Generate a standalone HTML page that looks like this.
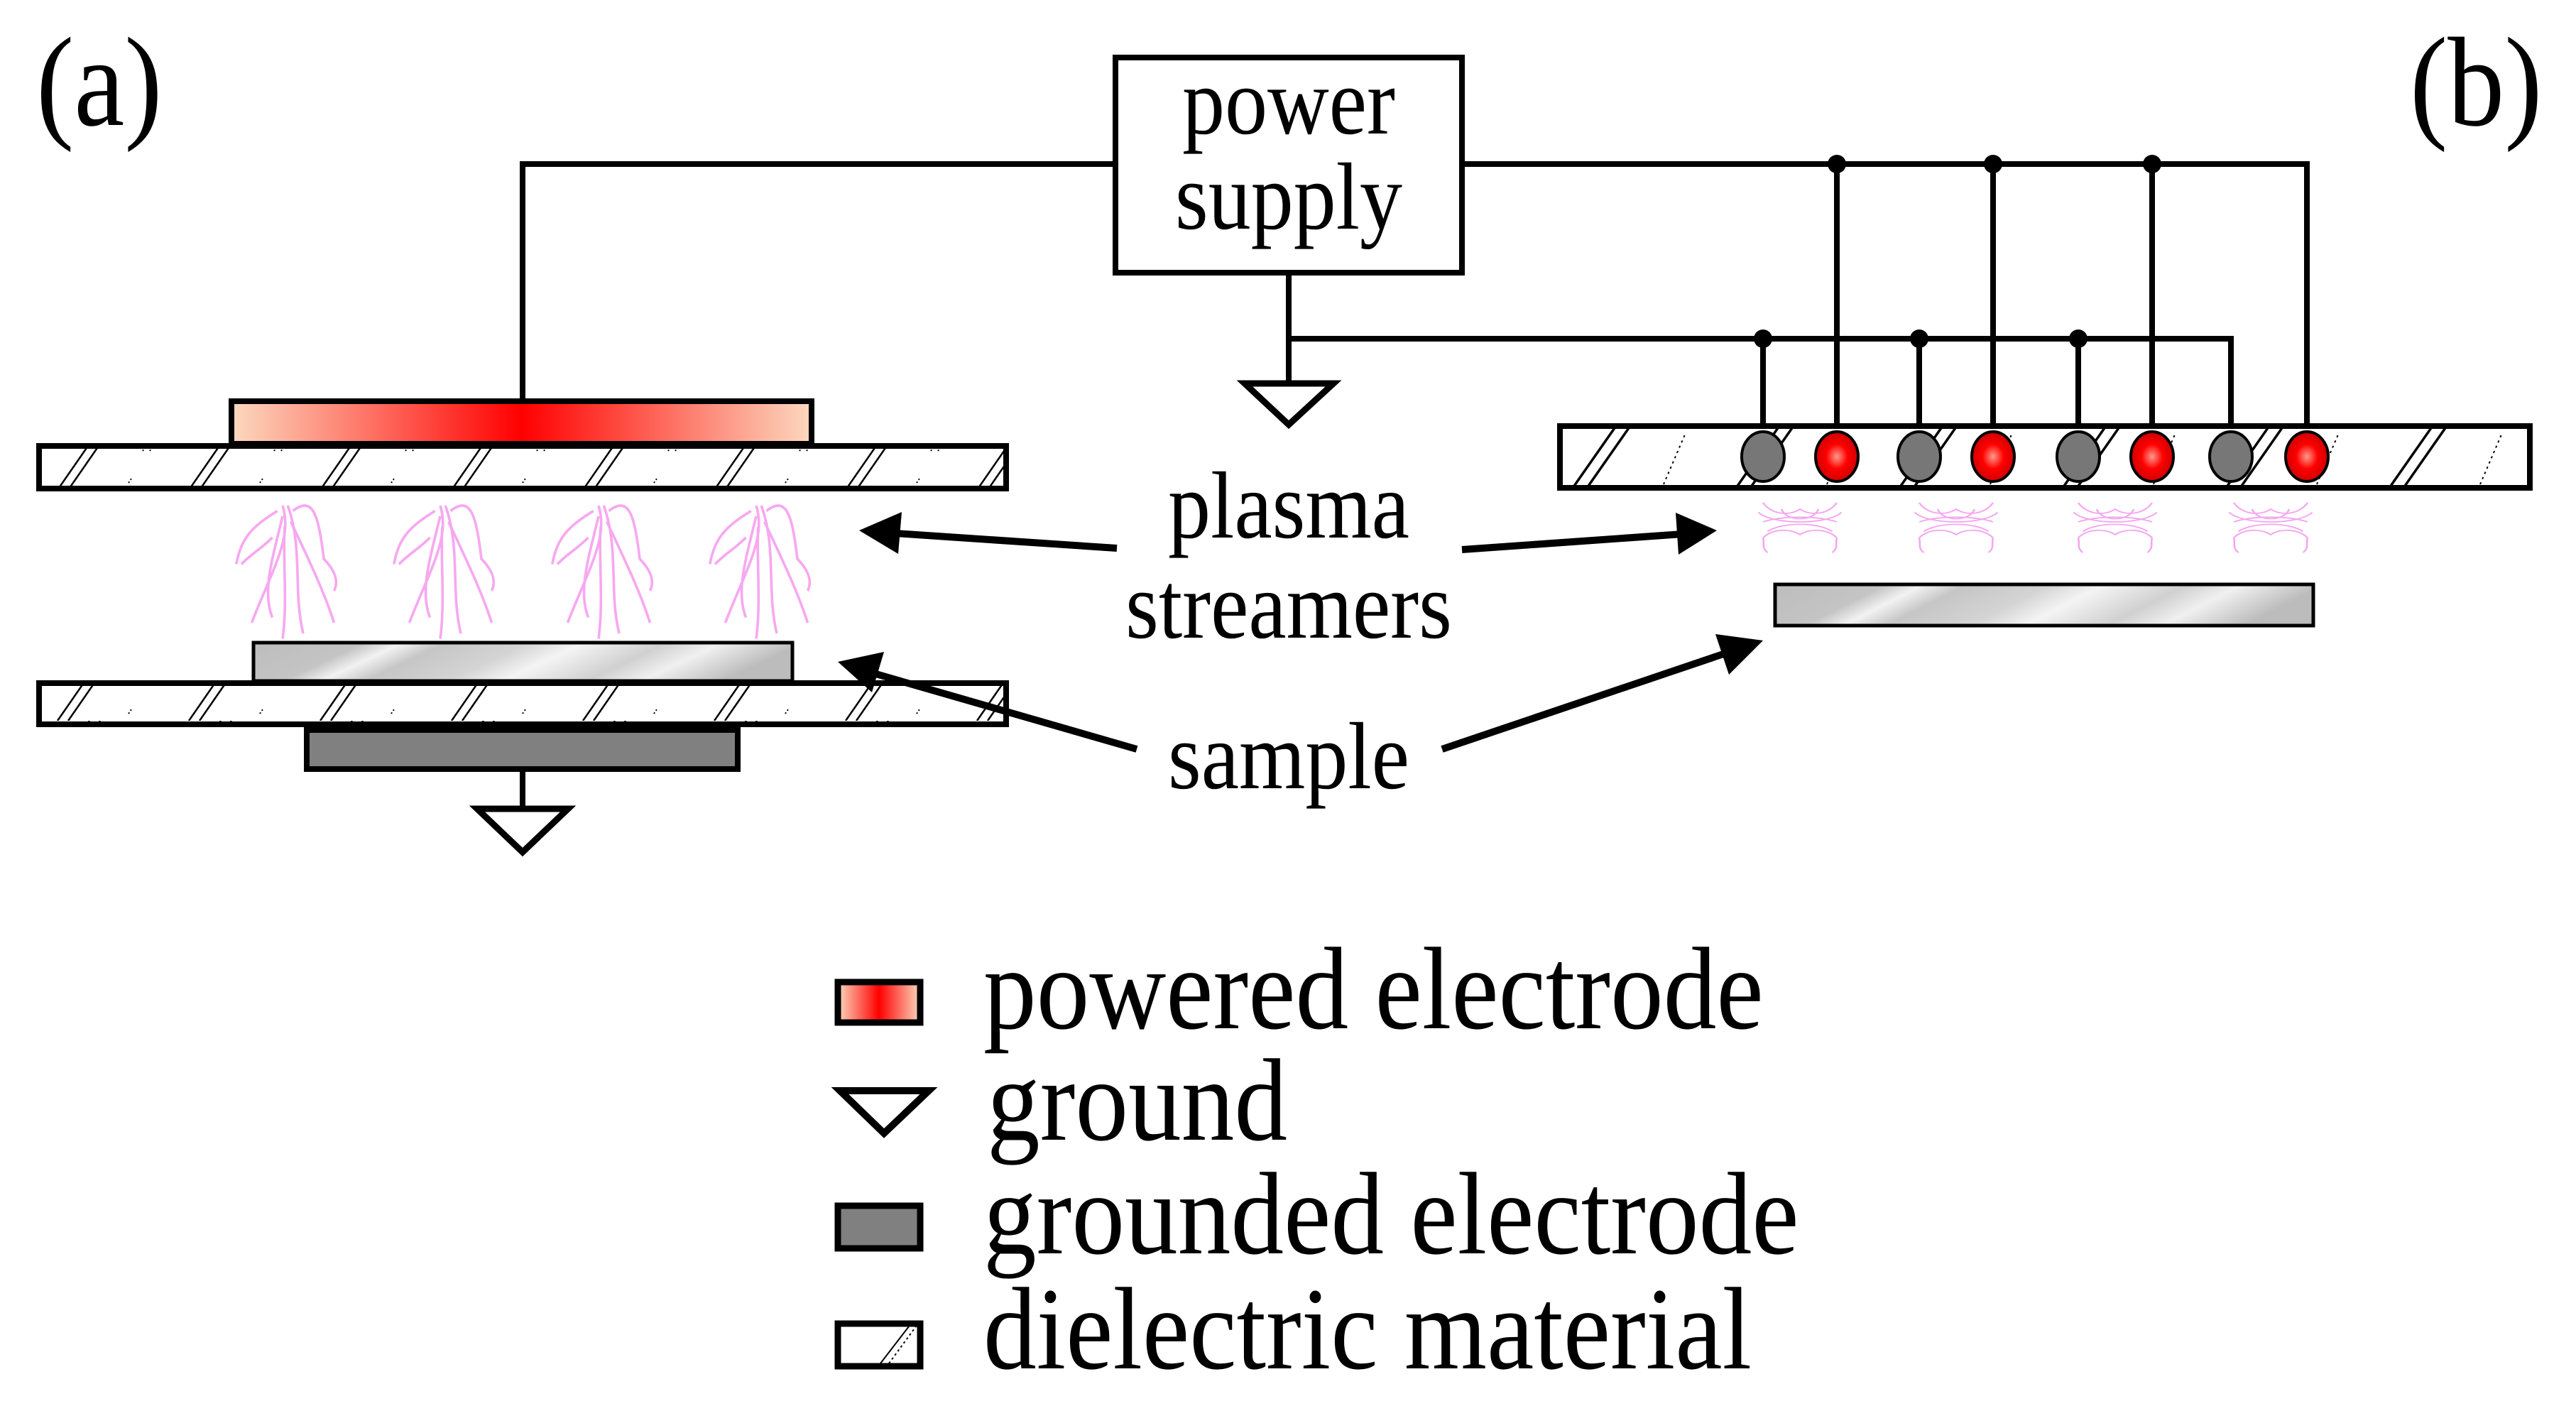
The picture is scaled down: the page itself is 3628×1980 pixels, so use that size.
<!DOCTYPE html>
<html><head><meta charset="utf-8"><style>html,body{margin:0;padding:0;background:#fff}svg{display:block}</style></head><body>
<svg width="3628" height="1980" viewBox="0 0 3628 1980" xmlns="http://www.w3.org/2000/svg" style="font-family:'Liberation Serif',serif">
<defs>
<linearGradient id="red" x1="0" x2="1" y1="0" y2="0">
<stop offset="0" stop-color="#fcd9bf"/><stop offset="0.5" stop-color="#ff0000"/><stop offset="1" stop-color="#fcd9bf"/></linearGradient>
<linearGradient id="metal" x1="0" x2="1" y1="0" y2="0.15">
<stop offset="0" stop-color="#bdbdbd"/><stop offset="0.2" stop-color="#c4c4c4"/><stop offset="0.27" stop-color="#f2f2f2"/><stop offset="0.35" stop-color="#c6c6c6"/><stop offset="0.5" stop-color="#d4d4d4"/><stop offset="0.6" stop-color="#f4f4f4"/><stop offset="0.75" stop-color="#d0d0d0"/><stop offset="0.85" stop-color="#f0f0f0"/><stop offset="1" stop-color="#bcbcbc"/></linearGradient>
<radialGradient id="rdot"><stop offset="0" stop-color="#ff9a8a"/><stop offset="0.5" stop-color="#ff0000"/><stop offset="1" stop-color="#d00000"/></radialGradient>
<pattern id="hatchA" x="51" y="625" width="185" height="65" patternUnits="userSpaceOnUse">
<path d="M30 65 L75 0 M45 65 L90 0" stroke="#000" stroke-width="2.5"/>
<path d="M130 55 l4 -6 M150 10 l2 -3 M160 10 l2 -3" stroke="#000" stroke-width="2" stroke-dasharray="2 3"/>
</pattern>
<pattern id="hatchB" x="2193" y="597" width="230" height="93" patternUnits="userSpaceOnUse">
<path d="M20 93 L85 0 M40 93 L105 0" stroke="#000" stroke-width="3.5"/>
<path d="M150 85 l30 -70" stroke="#000" stroke-width="2" stroke-dasharray="3 5"/>
</pattern>
<g id="strA" fill="none" stroke="#f7a8f0" stroke-width="2.5">
<path d="M0 0 C10 30 -10 60 -30 110 M5 0 C20 40 10 80 20 120 M-5 5 C-30 20 -40 30 -45 55 M10 5 C30 -10 35 10 40 50 C50 60 55 70 50 80 M0 10 C-10 50 -20 80 -10 105 M8 15 C25 50 40 80 50 110 M2 20 C0 50 5 90 0 125 M-10 30 C-20 40 -30 45 -40 55"/>
</g>
<g id="strB" fill="none" stroke="#f4a6ef" stroke-width="2">
<path d="M-40 0 C-30 20 -10 20 0 10 C10 20 30 20 40 0 M-45 15 C-30 35 30 35 45 15 M-40 30 C-20 20 20 20 40 30 M-35 45 C-20 30 20 30 35 45 M-20 10 C-15 30 15 30 20 10 M-40 55 C-30 40 -10 40 0 50 C10 40 30 40 40 55 M-40 55 C-38 65 -42 70 -35 78 M40 55 C38 65 42 70 35 78"/>
</g>
</defs>

<text transform="translate(51,176) scale(1,1.12)" font-size="160">(a)</text>
<text transform="translate(3394,176) scale(1,1.12)" font-size="160">(b)</text>

<rect x="1571" y="81" width="488" height="303" fill="#fff" stroke="#000" stroke-width="8"/>
<text transform="translate(1815,188) scale(1,1.12)" font-size="120" text-anchor="middle">power</text>
<text transform="translate(1815,322) scale(1,1.12)" font-size="120" text-anchor="middle">supply</text>

<g stroke="#000" stroke-width="8" fill="none">
<path d="M1571 231 H736 V562"/>
<path d="M736 1085 V1136"/>
<path d="M1815 384 V540"/>
<path d="M1815 477 H3142 V600"/>
<path d="M2059 231 H3249 V610"/>
<path d="M2587 231 V610 M2807 231 V610 M3031 231 V610"/>
<path d="M2483 477 V610 M2703 477 V610 M2927 477 V610"/>
</g>
<g fill="#000">
<circle cx="2587" cy="231" r="13"/><circle cx="2807" cy="231" r="13"/><circle cx="3031" cy="231" r="13"/>
<circle cx="2483" cy="477" r="13"/><circle cx="2703" cy="477" r="13"/><circle cx="2927" cy="477" r="13"/>
</g>
<polygon points="1753,540 1878,540 1815,598" fill="#fff" stroke="#000" stroke-width="9"/>
<polygon points="672,1139 800,1139 736,1200" fill="#fff" stroke="#000" stroke-width="9"/>

<rect x="326" y="565" width="817" height="60" fill="url(#red)" stroke="#000" stroke-width="8"/>
<rect x="55" y="628" width="1362" height="60" fill="#fff" stroke="#000" stroke-width="8"/>
<rect x="55" y="628" width="1362" height="60" fill="url(#hatchA)" stroke="#000" stroke-width="8"/>
<use href="#strA" transform="translate(398,712) scale(1.45,1.5)"/>
<use href="#strA" transform="translate(620,712) scale(1.45,1.5)"/>
<use href="#strA" transform="translate(843,712) scale(1.45,1.5)"/>
<use href="#strA" transform="translate(1065,712) scale(1.45,1.5)"/>
<rect x="357" y="905" width="759" height="54" fill="url(#metal)" stroke="#000" stroke-width="5"/>
<rect x="55" y="962" width="1362" height="58" fill="#fff" stroke="#000" stroke-width="8"/>
<rect x="55" y="962" width="1362" height="58" fill="url(#hatchA)" stroke="#000" stroke-width="8"/>
<rect x="432" y="1028" width="607" height="55" fill="#808080" stroke="#000" stroke-width="8"/>

<rect x="2197" y="600" width="1366" height="87" fill="#fff" stroke="#000" stroke-width="8"/>
<rect x="2197" y="600" width="1366" height="87" fill="url(#hatchB)" stroke="#000" stroke-width="8"/>
<g stroke="#000" stroke-width="4">
<ellipse cx="2483" cy="643" rx="30" ry="35" fill="#777"/>
<ellipse cx="2587" cy="643" rx="30" ry="35" fill="url(#rdot)"/>
<ellipse cx="2703" cy="643" rx="30" ry="35" fill="#777"/>
<ellipse cx="2807" cy="643" rx="30" ry="35" fill="url(#rdot)"/>
<ellipse cx="2927" cy="643" rx="30" ry="35" fill="#777"/>
<ellipse cx="3031" cy="643" rx="30" ry="35" fill="url(#rdot)"/>
<ellipse cx="3142" cy="643" rx="30" ry="35" fill="#777"/>
<ellipse cx="3249" cy="643" rx="30" ry="35" fill="url(#rdot)"/>
</g>
<use href="#strB" transform="translate(2535,708) scale(1.3,0.9)"/>
<use href="#strB" transform="translate(2755,708) scale(1.3,0.9)"/>
<use href="#strB" transform="translate(2979,708) scale(1.3,0.9)"/>
<use href="#strB" transform="translate(3198,708) scale(1.3,0.9)"/>
<rect x="2500" y="823" width="758" height="58" fill="url(#metal)" stroke="#000" stroke-width="5"/>

<text transform="translate(1815,757) scale(1,1.12)" font-size="120" text-anchor="middle">plasma</text>
<text transform="translate(1815,898) scale(1,1.12)" font-size="120" text-anchor="middle">streamers</text>
<text transform="translate(1815,1110) scale(1,1.12)" font-size="120" text-anchor="middle">sample</text>

<g stroke="#000" stroke-width="10">
<line x1="1573" y1="772" x2="1260" y2="751"/>
<line x1="2059" y1="774" x2="2370" y2="752"/>
<line x1="1601" y1="1055" x2="1230" y2="948"/>
<line x1="2031" y1="1055" x2="2430" y2="920"/>
</g>
<g fill="#000">
<polygon points="1210,747 1270,721 1265,780"/>
<polygon points="2418,747 2360,722 2364,781"/>
<polygon points="1180,932 1245,918 1228,975"/>
<polygon points="2483,902 2435,950 2416,893"/>
</g>

<rect x="1180" y="1383" width="116" height="57" fill="url(#red)" stroke="#000" stroke-width="9"/>
<text transform="translate(1385,1448) scale(1.03,1.14)" font-size="145">powered electrode</text>
<polygon points="1183,1536 1308,1536 1245,1596" fill="#fff" stroke="#000" stroke-width="10"/>
<text transform="translate(1390,1605) scale(1.03,1.14)" font-size="145">ground</text>
<rect x="1180" y="1698" width="116" height="60" fill="#808080" stroke="#000" stroke-width="9"/>
<text transform="translate(1385,1765) scale(1.03,1.14)" font-size="145">grounded electrode</text>
<rect x="1180" y="1864" width="116" height="60" fill="#fff" stroke="#000" stroke-width="9"/>
<path d="M1240 1920 L1280 1868" stroke="#000" stroke-width="2"/>
<path d="M1252 1920 L1290 1868" stroke="#000" stroke-width="2" stroke-dasharray="3 4"/>
<text transform="translate(1385,1927) scale(1.03,1.14)" font-size="145">dielectric material</text>
</svg>
</body></html>
